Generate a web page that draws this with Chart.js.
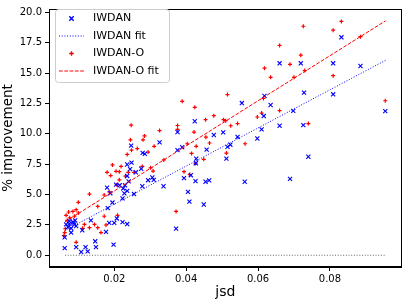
<!DOCTYPE html>
<html>
<head>
<meta charset="utf-8">
<script src="https://cdn.jsdelivr.net/npm/chart.js@4/dist/chart.umd.min.js"></script>
<style>
  html, body { margin: 0; padding: 0; background: #fff; }
  #wrap { width: 407px; height: 302px; }
</style>
</head>
<body>
<div id="wrap"><canvas id="scatterChart"></canvas></div>
<script>
// --- Data ---
const iwdanX = [0.0832, 0.066, 0.0719, 0.0809, 0.0885, 0.0728, 0.0809, 0.0698, 0.066, 0.0726,
  0.0954, 0.074, 0.0689, 0.0555, 0.0618, 0.0635, 0.0616, 0.061, 0.0477, 0.0503,
  0.0543, 0.0598, 0.0523, 0.0515, 0.0457, 0.0512, 0.0454, 0.0464, 0.0563, 0.0449,
  0.0424, 0.0376, 0.0326, 0.0247, 0.0279, 0.0285, 0.0389, 0.0376, 0.0428, 0.0427,
  0.0236, 0.0248, 0.026, 0.0275, 0.0236, 0.0306, 0.031, 0.0294, 0.0337, 0.0278,
  0.0394, 0.0413, 0.0426, 0.0405, 0.0409, 0.0372, 0.0244, 0.018, 0.0205, 0.0215,
  0.024, 0.023, 0.0225, 0.0189, 0.0228, 0.0236, 0.0255, 0.0223, 0.0182, 0.0135,
  0.0186, 0.020, 0.0177, 0.0223, 0.0147, 0.0149, 0.0198, 0.012, 0.0108, 0.0126,
  0.0094, 0.0062, 0.0062, 0.008, 0.0087, 0.0066, 0.0075, 0.0089, 0.0094, 0.0071,
  0.008, 0.0085, 0.0075, 0.0091, 0.0111, 0.0195, 0.0207, 0.0236];
const iwdanY = [17.94, 15.8, 15.8, 15.8, 15.58, 13.39, 13.25, 11.89, 10.66, 10.71,
  11.86, 8.11, 6.29, 12.53, 13.12, 12.37, 11.46, 10.36, 9.9, 10.12,
  9.74, 9.61, 9.1, 8.92, 8.7, 7.95, 6.05, 6.16, 6.05, 4.18,
  11.03, 10.14, 9.29, 9.02, 8.43, 8.35, 8.89, 8.65, 7.95, 7.57,
  7.47, 7.63, 6.83, 7.12, 6.53, 6.4, 6.21, 6.18, 5.68, 5.68,
  6.35, 6.59, 6.1, 5.22, 4.42, 2.19, 7.09, 5.57, 5.81, 5.76,
  6.08, 5.76, 5.5, 5.11, 5.09, 5.3, 5.04, 4.68, 3.88, 2.87,
  2.67, 2.67, 1.93, 2.73, 1.15, 0.67, 0.88, 0.67, 0.27, 0.32,
  0.67, 0.59, 1.47, 1.87, 2.67, 2.54, 2.59, 2.54, 2.41, 2.33,
  2.22, 2.75, 2.81, 2.87, 2.06, 4.34, 3.03, 2.57];

const iwdanOX = [0.0832, 0.0726, 0.0809, 0.0885, 0.066, 0.0719, 0.0689, 0.073, 0.070, 0.0809,
  0.0954, 0.066, 0.074, 0.0618, 0.0635, 0.0515, 0.0454, 0.0477, 0.0504, 0.051,
  0.0615, 0.061, 0.0598, 0.0524, 0.0543, 0.0455, 0.0465, 0.0564, 0.0449, 0.0512,
  0.0389, 0.0424, 0.0247, 0.0326, 0.0376, 0.0376, 0.0245, 0.0284, 0.028, 0.0264,
  0.0248, 0.0236, 0.0294, 0.0415, 0.0428, 0.0278, 0.0301, 0.0308, 0.0219, 0.0231,
  0.0394, 0.0422, 0.0403, 0.0338, 0.0426, 0.041, 0.0372, 0.0195, 0.0205, 0.0214,
  0.018, 0.019, 0.0239, 0.0255, 0.0131, 0.0172, 0.0186, 0.0311, 0.0214, 0.0207,
  0.010, 0.0066, 0.0073, 0.0085, 0.0094, 0.010, 0.0089, 0.0076, 0.0069, 0.0117,
  0.0172, 0.0209, 0.0145, 0.0112, 0.006, 0.0062, 0.0094, 0.0163, 0.0154, 0.0177,
  0.0131, 0.0064, 0.0154];
const iwdanOY = [19.25, 18.85, 18.53, 17.99, 17.27, 16.47, 15.72, 15.2, 14.65, 14.78,
  12.72, 11.91, 10.84, 15.4, 14.65, 13.23, 11.16, 11.49, 11.16, 11.08,
  12.91, 11.7, 11.38, 10.66, 10.84, 9.72, 9.24, 9.18, 7.9, 8.41,
  12.67, 12.18, 10.71, 10.26, 10.68, 10.36, 9.5, 9.82, 9.5, 8.78,
  8.65, 8.3, 8.49, 8.38, 8.97, 7.31, 7.2, 6.93, 7.31, 6.51,
  6.88, 10.14, 9.18, 7.85, 7.55, 6.64, 3.61, 7.44, 6.91, 6.88,
  6.83, 6.56, 6.83, 6.83, 5.04, 4.96, 5.22, 8.97, 6.21, 5.81,
  4.36, 3.29, 3.56, 3.61, 3.75, 3.48, 3.21, 3.08, 2.87, 2.54,
  3.21, 3.29, 2.54, 2.22, 1.61, 1.87, 1.07, 1.87, 2.27, 2.49,
  2.27, 2.19, 4.02];

// fit lines: end points
const fitX = [0.0063, 0.0955];
const iwdanFit = [2.05, 16.05];
const iwdanOFit = [2.75, 19.3];
const zeroLine = [0, 0];

const xTicks = [0.02, 0.04, 0.06, 0.08];
const yTicks = [0, 2.5, 5, 7.5, 10, 12.5, 15, 17.5, 20];

const pts = (xs, ys) => xs.map((x, i) => ({ x: x, y: ys[i] }));

// --- frame + legend inside the axes ---
const frameLegend = {
    id: 'frameLegend',
    afterDraw(chart) {
        const { ctx, chartArea: a } = chart;
        ctx.save();
        ctx.strokeStyle = '#000';
        ctx.lineWidth = 1;
        ctx.setLineDash([]);
        ctx.strokeRect(Math.round(a.left) + 0.5, Math.round(a.top) + 0.5,
            Math.round(a.right - a.left) - 1, Math.round(a.bottom - a.top) - 1);

        // legend box
        const bx = 55.5, by = 9.5, bw = 114, bh = 73;
        ctx.beginPath();
        ctx.roundRect(bx, by, bw, bh, 3);
        ctx.fillStyle = 'rgba(255,255,255,0.8)';
        ctx.fill();
        ctx.strokeStyle = '#cccccc';
        ctx.stroke();

        const rows = [18.5, 36, 53.5, 71];
        ctx.font = '11px "DejaVu Sans"';
        ctx.textBaseline = 'middle';
        ctx.textAlign = 'left';
        chart.data.datasets.slice(0, 4).forEach((ds, i) => {
            const y = rows[i];
            ctx.strokeStyle = ds.borderColor;
            if (ds.showLine) {
                ctx.lineWidth = 1;
                ctx.setLineDash(ds.borderDash);
                ctx.beginPath();
                ctx.moveTo(59, y);
                ctx.lineTo(84, y);
                ctx.stroke();
                ctx.setLineDash([]);
            } else {
                const r = i === 0 ? 2.2 : 2.3;
                ctx.lineWidth = 1.4;
                ctx.beginPath();
                if (ds.pointStyle === 'crossRot') {
                    ctx.moveTo(71.5 - r, y - r); ctx.lineTo(71.5 + r, y + r);
                    ctx.moveTo(71.5 - r, y + r); ctx.lineTo(71.5 + r, y - r);
                } else {
                    ctx.moveTo(71.5 - r, y); ctx.lineTo(71.5 + r, y);
                    ctx.moveTo(71.5, y - r); ctx.lineTo(71.5, y + r);
                }
                ctx.stroke();
            }
            ctx.fillStyle = '#000';
            ctx.fillText(ds.label, 93, y);
        });
        ctx.restore();
    }
};

Chart.defaults.font.family = '"DejaVu Sans"';
Chart.defaults.color = '#000';

const ctx = document.getElementById('scatterChart').getContext('2d');
new Chart(ctx, {
    type: 'scatter',
    data: {
        datasets: [
            {
                label: 'IWDAN',
                data: pts(iwdanX, iwdanY),
                pointStyle: 'crossRot',
                radius: 2.9,
                borderWidth: 1.1,
                borderColor: '#0000ff',
                backgroundColor: '#0000ff',
                order: 2
            },
            {
                label: 'IWDAN fit',
                data: pts(fitX, iwdanFit),
                showLine: true,
                pointRadius: 0,
                borderColor: '#0000ff',
                borderWidth: 1,
                borderDash: [1, 1.7],
                order: 1
            },
            {
                label: 'IWDAN-O',
                data: pts(iwdanOX, iwdanOY),
                pointStyle: 'cross',
                radius: 2,
                borderWidth: 1.2,
                borderColor: '#ff0000',
                backgroundColor: '#ff0000',
                order: 2
            },
            {
                label: 'IWDAN-O fit',
                data: pts(fitX, iwdanOFit),
                showLine: true,
                pointRadius: 0,
                borderColor: '#ff0000',
                borderWidth: 1,
                borderDash: [3.7, 1.6],
                order: 1
            },
            {
                label: 'zero',
                data: pts(fitX, zeroLine),
                showLine: true,
                pointRadius: 0,
                borderColor: 'rgba(0,0,0,0.6)',
                borderWidth: 1,
                borderDash: [1, 1.7],
                order: 3
            }
        ]
    },
    options: {
        responsive: true,
        maintainAspectRatio: false,
        animation: false,
        layout: { padding: { top: 3, right: 3, left: 0, bottom: 0 } },
        plugins: {
            legend: { display: false },
            tooltip: { enabled: false }
        },
        scales: {
            x: {
                type: 'linear',
                min: 0.00184,
                max: 0.1,
                afterBuildTicks: (s) => { s.ticks = xTicks.map(v => ({ value: v })); },
                afterFit: (s) => { s.height = 35; },
                grid: { drawOnChartArea: false, tickLength: 4, color: '#000' },
                border: { color: '#000' },
                ticks: { font: { size: 10 }, padding: 2, callback: (v) => v.toFixed(2) },
                title: { display: true, text: 'jsd', font: { size: 14 }, padding: { top: 0, bottom: 1 } }
            },
            y: {
                type: 'linear',
                min: -0.965,
                max: 20.27,
                afterBuildTicks: (s) => { s.ticks = yTicks.map(v => ({ value: v })); },
                afterFit: (s) => { s.width = 49; },
                grid: { drawOnChartArea: false, tickLength: 4, color: '#000' },
                border: { color: '#000' },
                ticks: { font: { size: 10 }, padding: 3, callback: (v) => v.toFixed(1) },
                title: { display: true, text: '% improvement', font: { size: 13.5 }, padding: { top: 0, bottom: 2 } }
            }
        }
    },
    plugins: [frameLegend]
});
</script>
</body>
</html>
